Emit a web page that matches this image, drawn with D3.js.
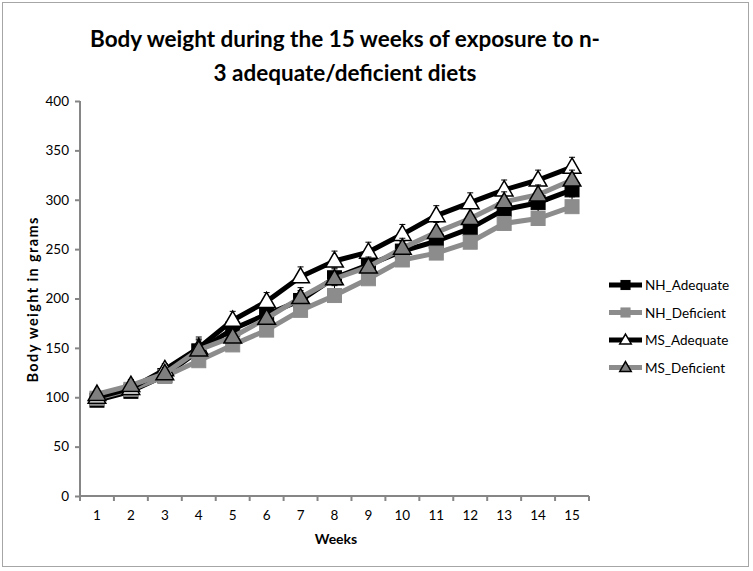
<!DOCTYPE html>
<html><head><meta charset="utf-8">
<script src="https://cdn.jsdelivr.net/npm/d3@7"></script>
<style>body{margin:0;background:#fff}svg{display:block}</style>
</head><body>
<script>
const weeks = [1,2,3,4,5,6,7,8,9,10,11,12,13,14,15];
const nhAdequate  = [97,106,122,147,169,184,198,221,234,248,258,271,290,297,310];
const nhDeficient = [99,108,121,137,153,168,188,203,220,239,246,257,276,281,293];
const msAdequate  = [100,109,128,150,178,197,222,238,247,265,284,297,310,320,333];
const msDeficient = [103,112,124,148,161,180,201,220,232,251,267,281,298,305,320];
const errAll = [5,6,6,11,9,9,10,10,10,10,10,10,10,10,10];
const yTicks = [0,50,100,150,200,250,300,350,400];
const seriesNames = ["NH_Adequate","NH_Deficient","MS_Adequate","MS_Deficient"];

const series = [
  {name:seriesNames[0], values:nhAdequate, line:"#000", marker:"square", fill:"#000", stroke:"#000"},
  {name:seriesNames[1], values:nhDeficient, line:"#8c8c8c", marker:"square", fill:"#8c8c8c", stroke:"#8c8c8c"},
  {name:seriesNames[2], values:msAdequate, line:"#000", marker:"triangle", fill:"#fff", stroke:"#000"},
  {name:seriesNames[3], values:msDeficient, line:"#8c8c8c", marker:"triangle", fill:"#7f7f7f", stroke:"#000"}
];

const W=753,H=571;
const svg=d3.select("body").append("svg").attr("width",W).attr("height",H);
svg.append("rect").attr("x",2.5).attr("y",2.5).attr("width",746).attr("height",564)
  .attr("fill","#fff").attr("stroke","#a6a6a6").attr("stroke-width",1);

const font="Lato, 'Open Sans', sans-serif";
const x=d3.scaleBand().domain(weeks).range([80,589]);
const y=d3.scaleLinear().domain([0,400]).range([496,101]);

// title
const title=svg.append("text").attr("text-anchor","middle").attr("font-family",font)
  .attr("font-weight","bold").attr("font-size",22.5).attr("fill","#000");
title.append("tspan").attr("x",345).attr("y",47).text("Body weight during the 15 weeks of exposure to n-");
title.append("tspan").attr("x",345).attr("y",81).text("3 adequate/deficient diets");

// axes
const yAxis=svg.append("g").attr("transform","translate(80,0)")
  .call(d3.axisLeft(y).tickValues(yTicks).tickSize(5).tickPadding(6));
const xAxis=svg.append("g").attr("transform","translate(0,496)")
  .call(d3.axisBottom(x).tickSize(0).tickPadding(14));
const bounds=weeks.map(w=>x(w)).concat([x(weeks[weeks.length-1])+x.bandwidth()]);
xAxis.selectAll(".bt").data(bounds).enter().append("line").attr("class","bt")
  .attr("x1",d=>d).attr("x2",d=>d).attr("y1",0).attr("y2",5).attr("stroke","#868686").attr("stroke-width",2);
[yAxis,xAxis].forEach(g=>{
  g.selectAll(".domain").attr("stroke","#868686").attr("stroke-width",2);
  g.selectAll(".tick line").attr("stroke","#868686").attr("stroke-width",2);
  g.selectAll(".tick text").attr("font-family",font).attr("font-size",13.5).attr("fill","#000");
});
yAxis.select(".domain").attr("d","M0,496V101");
xAxis.select(".domain").attr("d","M80,0H589");

// axis labels
svg.append("text").attr("transform","translate(38,300) rotate(-90)").attr("text-anchor","middle")
  .attr("font-family",font).attr("font-weight","bold").attr("font-size",14.5)
  .attr("textLength",165).attr("lengthAdjust","spacing").text("Body weight in grams");
svg.append("text").attr("x",336).attr("y",544).attr("text-anchor","middle")
  .attr("font-family",font).attr("font-weight","bold").attr("font-size",14).text("Weeks");

const cx=w=>x(w)+x.bandwidth()/2;
const line=d3.line().x((d,i)=>cx(weeks[i])).y(d=>y(d));

function drawMarker(g,s,px,py,k){
  if(s.marker==="square"){
    const h=7*k;
    g.append("rect").attr("x",px-h).attr("y",py-h).attr("width",2*h).attr("height",2*h)
      .attr("fill",s.fill).attr("stroke",s.stroke).attr("stroke-width",1);
  } else {
    const tri=d3.symbol().type(d3.symbolTriangle).size(135*k*k);
    g.append("path").attr("d",tri).attr("transform",`translate(${px},${py+1*k})`)
      .attr("fill",s.fill).attr("stroke",s.stroke).attr("stroke-width",1.5);
  }
}

series.forEach(s=>{
  const g=svg.append("g");
  g.append("path").attr("d",line(s.values)).attr("fill","none").attr("stroke",s.line)
    .attr("stroke-width",5).attr("stroke-linejoin","round");
  s.values.forEach((v,i)=>{
    const px=cx(weeks[i]);
    const t=y(v+errAll[i]), b=y(v);
    g.append("line").attr("x1",px).attr("x2",px).attr("y1",t).attr("y2",b)
      .attr("stroke","#000").attr("stroke-width",1);
    g.append("line").attr("x1",px-3).attr("x2",px+3).attr("y1",t).attr("y2",t)
      .attr("stroke","#000").attr("stroke-width",1);
  });
  s.values.forEach((v,i)=>drawMarker(g,s,cx(weeks[i]),y(v),1));
});

// legend
series.forEach((s,i)=>{
  const ly=285+i*27.5;
  const g=svg.append("g");
  g.append("line").attr("x1",609).attr("x2",642).attr("y1",ly).attr("y2",ly)
    .attr("stroke",s.line).attr("stroke-width",5);
  drawMarker(g,s,625.5,ly,0.65);
  g.append("text").attr("x",645).attr("y",ly+5).attr("font-family",font).attr("font-size",13.5)
    .attr("fill","#000").text(s.name);
});
</script>
</body></html>
